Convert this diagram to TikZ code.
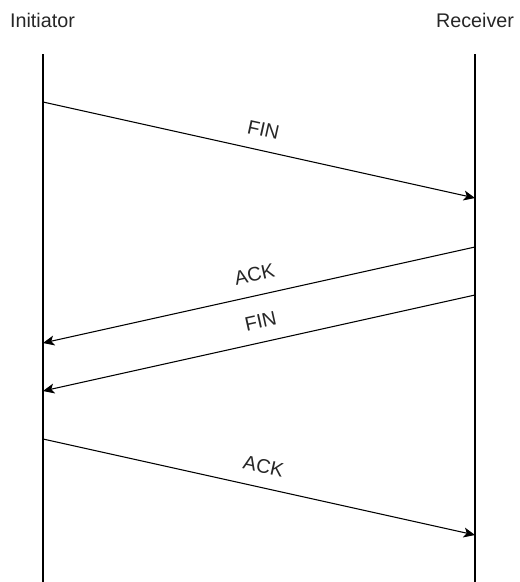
\documentclass[tikz,border=0pt]{standalone}
\usepackage{fontspec}
\setmainfont{Liberation Sans}
\usetikzlibrary{arrows.meta}
\begin{document}
\begin{tikzpicture}[x=0.75pt,y=-0.75pt,
  lifeline/.style={line width=0.95pt, draw=black},
  msg/.style={line width=0.8pt, draw=black, -{Stealth[length=8.5pt,width=7.5pt,inset=2.2pt]}},
  actor/.style={font=\fontsize{14.8}{17}\selectfont, text=black!85, inner sep=0pt, anchor=base},
  lbl/.style={font=\fontsize{14.8}{17}\selectfont, text=black!85, inner sep=0pt, sloped, above=10pt}]
\useasboundingbox (0,0) rectangle (520,582);

% participants
\node[actor] (init) at (42.5,27) {Initiator};
\node[actor] (recv) at (475,27) {Receiver};

% lifelines
\coordinate (iTop) at (43,54);
\coordinate (iBot) at (43,582);
\coordinate (rTop) at (475,54);
\coordinate (rBot) at (475,582);
\draw[lifeline] (iTop) -- (iBot);
\draw[lifeline] (rTop) -- (rBot);

% message end points on the lifelines
\coordinate (i1) at (43,102);
\coordinate (r1) at (475,198);
\coordinate (r2) at (475,247);
\coordinate (i2) at (43,343);
\coordinate (r3) at (475,295);
\coordinate (i3) at (43,391);
\coordinate (i4) at (43,439);
\coordinate (r4) at (475,535);

% messages
\draw[msg] (i1) -- node[lbl, pos=0.5] (m1) {FIN} (r1);
\draw[msg] (r2) -- node[lbl, pos=0.5] (m2) {ACK} (i2);
\draw[msg] (r3) -- node[lbl, pos=0.486] (m3) {FIN} (i3);
\draw[msg] (i4) -- node[lbl, pos=0.5] (m4) {ACK} (r4);
\end{tikzpicture}
\end{document}
